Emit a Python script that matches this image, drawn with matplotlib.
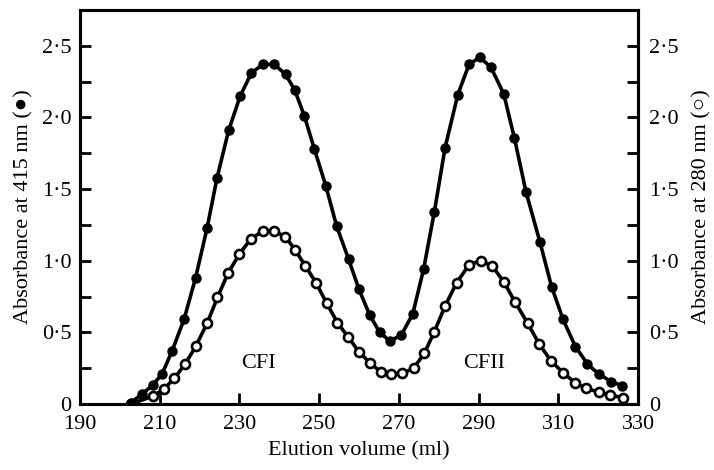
import numpy as np
import matplotlib
matplotlib.use('Agg')
import matplotlib.pyplot as plt
from matplotlib.ticker import FixedLocator, FuncFormatter

# elution volume (ml) and absorbance at 415 nm (filled circles)
vol_415 = [202.8, 205.6, 208.2, 210.6, 213.1, 216.1, 219.0, 221.9, 224.4, 227.3,
           230.2, 233.0, 235.8, 238.8, 241.6, 243.9, 246.3, 248.8, 251.7, 254.4,
           257.4, 260.0, 262.7, 265.2, 267.7, 270.6, 273.5, 276.2, 278.9, 281.6,
           284.8, 287.6, 290.3, 293.1, 296.3, 299.0, 301.9, 305.4, 308.3, 311.2,
           314.3, 317.3, 320.1, 323.3, 326.0]
abs_415 = [0.01, 0.07, 0.13, 0.21, 0.37, 0.59, 0.88, 1.23, 1.58, 1.91,
           2.15, 2.31, 2.37, 2.37, 2.30, 2.19, 2.01, 1.78, 1.52, 1.24,
           1.01, 0.80, 0.62, 0.50, 0.44, 0.48, 0.63, 0.94, 1.34, 1.79,
           2.16, 2.37, 2.42, 2.35, 2.165, 1.855, 1.48, 1.13, 0.82, 0.59,
           0.40, 0.28, 0.21, 0.156, 0.128]

# elution volume (ml) and absorbance at 280 nm (open circles)
vol_280 = [202.8, 208.4, 211.1, 213.7, 216.4, 219.1, 221.9, 224.5, 227.2, 230.0,
           232.8, 235.9, 238.6, 241.5, 244.0, 246.5, 249.2, 251.9, 254.6, 257.3,
           260.0, 262.7, 265.4, 268.1, 270.8, 273.7, 276.4, 278.9, 281.6, 284.5,
           287.6, 290.5, 293.4, 296.3, 299.2, 302.3, 305.2, 308.2, 311.2, 314.2,
           317.0, 320.1, 323.0, 326.2]
abs_280 = [0.0, 0.056, 0.105, 0.18, 0.28, 0.405, 0.564, 0.744, 0.917, 1.046,
           1.151, 1.208, 1.208, 1.168, 1.075, 0.966, 0.847, 0.703, 0.568, 0.466,
           0.365, 0.288, 0.226, 0.207, 0.214, 0.249, 0.354, 0.505, 0.684, 0.847,
           0.971, 1.001, 0.964, 0.854, 0.71, 0.564, 0.419, 0.30, 0.218, 0.149,
           0.109, 0.084, 0.063, 0.044]

x_ticks = [190, 210, 230, 250, 270, 290, 310, 330]
y_ticks = [0, 0.5, 1.0, 1.5, 2.0, 2.5]
peak_labels = [('CFI', 234.7, 0.28), ('CFII', 291.3, 0.28)]

plt.rcParams['font.family'] = ['Liberation Serif', 'DejaVu Serif']
plt.rcParams['font.size'] = 16


def fmt_y(v, pos):
    if v == 0:
        return '0'
    return f'{v:.1f}'.replace('.', '\u00b7')


fig = plt.figure(figsize=(7.14, 4.70), dpi=100)
ax = fig.add_axes([0.112, 0.1404, 0.7816, 0.8383])

ax.plot(vol_415, abs_415, '-o', color='black', lw=2.6, ms=6.5,
        mfc='black', mec='black', zorder=4)
ax.plot(vol_280, abs_280, '-o', color='black', lw=2.6, ms=6.5,
        mfc='white', mec='black', mew=1.9, zorder=3)

for txt, xv, yv in peak_labels:
    ax.text(xv, yv, txt, ha='center', va='center', fontsize=16)

ax.set_xlim(190, 330)
ax.set_ylim(0, 2.75)
ax.xaxis.set_major_locator(FixedLocator(x_ticks))
ax.yaxis.set_major_locator(FixedLocator(y_ticks))
ax.yaxis.set_minor_locator(FixedLocator(np.arange(0.25, 2.75, 0.5)))
ax.yaxis.set_major_formatter(FuncFormatter(fmt_y))
ax.tick_params(axis='both', which='both', direction='in', length=8, width=2)
ax.tick_params(axis='x', pad=8)
ax.tick_params(axis='y', pad=6)
for s in ax.spines.values():
    s.set_linewidth(2.2)

ax.set_xlabel('Elution volume (ml)', labelpad=5)
ax.set_ylabel('Absorbance at 415 nm (\u25cf)', labelpad=6)

ax2 = ax.twinx()
ax2.set_ylim(0, 2.75)
ax2.yaxis.set_major_locator(FixedLocator(y_ticks))
ax2.yaxis.set_minor_locator(FixedLocator(np.arange(0.25, 2.75, 0.5)))
ax2.yaxis.set_major_formatter(FuncFormatter(fmt_y))
ax2.tick_params(axis='y', which='both', direction='in', length=8, width=2, pad=8)
ax2.set_ylabel('Absorbance at 280 nm (\u25cb)', labelpad=10)
for s in ax2.spines.values():
    s.set_linewidth(2.2)

fig.savefig('out.png', dpi=100)
